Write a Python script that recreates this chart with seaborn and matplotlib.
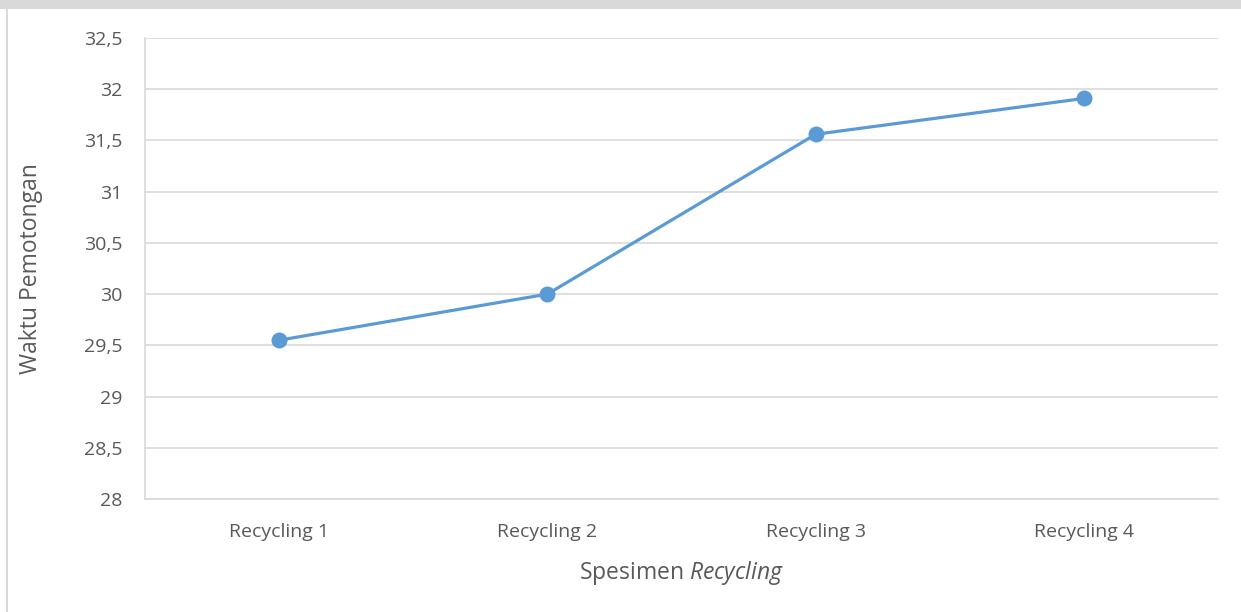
import seaborn as sns
import pandas as pd
import matplotlib.pyplot as plt
from matplotlib.patches import Rectangle

categories = ["Recycling 1", "Recycling 2", "Recycling 3", "Recycling 4"]
waktu = [29.55, 30.0, 31.56, 31.91]
yticks = [28, 28.5, 29, 29.5, 30, 30.5, 31, 31.5, 32, 32.5]

sns.set_style("white")
plt.rcParams["font.family"] = ["Open Sans", "DejaVu Sans"]
plt.rcParams["mathtext.fontset"] = "custom"
plt.rcParams["mathtext.it"] = "Open Sans:italic"
plt.rcParams["mathtext.rm"] = "Open Sans"

df = pd.DataFrame({"x": [i + 0.5 for i in range(len(categories))], "y": waktu})

fig = plt.figure(figsize=(12.41, 6.12), dpi=100)
# grey strip at top and thin frame like the scanned page
fig.patches.append(Rectangle((0, 0.985), 1, 0.015, transform=fig.transFigure,
                             facecolor="#d9d9d9", edgecolor="none"))
fig.add_artist(plt.Line2D([0.006, 0.006], [0, 0.985], transform=fig.transFigure,
                          color="#d9d9d9", lw=1.5))

ax = fig.add_axes([145 / 1241, 1 - 499 / 612, 1073 / 1241, 461 / 612])
sns.lineplot(data=df, x="x", y="y", ax=ax, color="#5b9bd5", linewidth=2.3,
             marker="o", markersize=11.5, markeredgewidth=0)

ax.set_xlim(0, 4)
ax.set_ylim(28, 32.5)
ax.set_yticks(yticks)
ax.set_yticklabels([("%g" % v).replace(".", ",") for v in yticks])
ax.set_xticks(df["x"])
ax.set_xticklabels(categories)
ax.yaxis.grid(True, color="#d9d9d9", linewidth=1.2)
ax.set_axisbelow(True)

for s in ["top", "right"]:
    ax.spines[s].set_visible(False)
for s in ["left", "bottom"]:
    ax.spines[s].set_color("#d9d9d9")
    ax.spines[s].set_linewidth(1.2)

ax.tick_params(axis="y", length=6, color="#d9d9d9", width=1.2, labelsize=14,
               labelcolor="#595959", pad=10)
ax.tick_params(axis="x", length=0, labelsize=14, labelcolor="#595959", pad=17)

ax.set_ylabel("Waktu Pemotongan", fontsize=16.5, color="#595959", labelpad=30)
ax.set_xlabel("Spesimen $Recycling$", fontsize=16.5, color="#595959", labelpad=13)

fig.savefig("out.png", dpi=100, facecolor="white")
